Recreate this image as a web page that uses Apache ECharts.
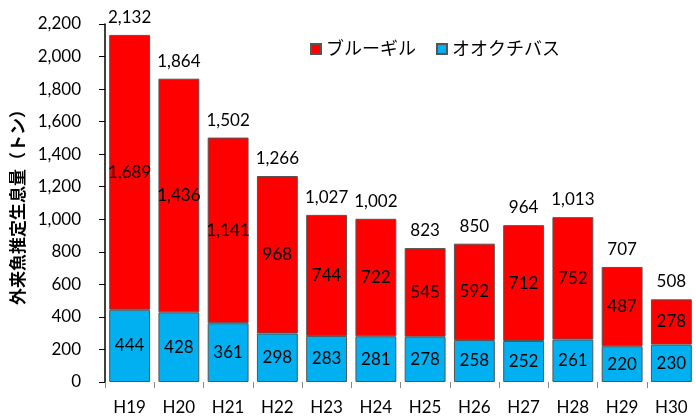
<!DOCTYPE html>
<html lang="ja">
<head>
  <meta charset="UTF-8">
  <title>外来魚推定生息量</title>
  <script src="https://cdn.jsdelivr.net/npm/echarts@6/dist/echarts.min.js"></script>
  <style>
    html, body { margin: 0; padding: 0; background: #fff; }
    #chart { width: 696px; height: 417px; }
  </style>
</head>
<body>
<div id="chart"></div>
<script>
  // 年度
  var years = ['H19', 'H20', 'H21', 'H22', 'H23', 'H24', 'H25', 'H26', 'H27', 'H28', 'H29', 'H30'];
  // オオクチバス（下段）
  var bass = [444, 428, 361, 298, 283, 281, 278, 258, 252, 261, 220, 230];
  // ブルーギル（上段）
  var bluegill = [1689, 1436, 1141, 968, 744, 722, 545, 592, 712, 752, 487, 278];
  // 合計ラベル
  var totals = [2132, 1864, 1502, 1266, 1027, 1002, 823, 850, 964, 1013, 707, 508];
  // 縦軸目盛
  var yTicks = [0, 200, 400, 600, 800, 1000, 1200, 1400, 1600, 1800, 2000, 2200];

  var font = 'Lato, "Noto Sans CJK JP", sans-serif';
  var fmt = function (v) { return Number(v).toLocaleString('en-US'); };

  var chart = echarts.init(document.getElementById('chart'));
  var option = {
    animation: false,
    textStyle: { fontFamily: font },
    legend: {
      data: ['ブルーギル', 'オオクチバス'],
      left: 305,
      top: 35,
      icon: 'rect',
      itemWidth: 10,
      itemHeight: 10,
      itemGap: 20,
      textStyle: { fontSize: 18, color: '#000', fontFamily: font }
    },
    grid: { left: 105, top: 24, width: 595, height: 358 },
    xAxis: {
      type: 'category',
      data: years,
      axisLine: { show: false },
      axisTick: { show: true, length: 6, lineStyle: { color: '#888' } },
      axisLabel: { fontSize: 17, color: '#000', margin: 17 }
    },
    yAxis: {
      type: 'value',
      min: yTicks[0],
      max: yTicks[yTicks.length - 1],
      interval: 200,
      name: '外来魚推定生息量（トン）',
      nameLocation: 'middle',
      nameGap: 78,
      nameRotate: 90,
      nameTextStyle: { fontSize: 17, fontWeight: 'bold', color: '#000', fontFamily: font },
      axisLine: { show: true, lineStyle: { color: '#000', width: 1.5 } },
      axisTick: { show: true, inside: false, length: 6, lineStyle: { color: '#000' } },
      axisLabel: { fontSize: 17, color: '#000', margin: 24, formatter: fmt },
      splitLine: { show: false }
    },
    series: [
      {
        name: 'オオクチバス',
        type: 'bar',
        stack: 'fish',
        barWidth: '83%',
        data: bass,
        itemStyle: { color: '#00B0F0', borderColor: '#555', borderWidth: 1 },
        label: { show: true, position: 'inside', fontSize: 17, color: '#000', formatter: function (p) { return fmt(p.value); } }
      },
      {
        name: 'ブルーギル',
        type: 'bar',
        stack: 'fish',
        data: bluegill,
        itemStyle: { color: '#FF0000', borderColor: '#555', borderWidth: 1 },
        label: { show: true, position: 'inside', fontSize: 17, color: '#000', formatter: function (p) { return fmt(p.value); } }
      },
      {
        name: '合計',
        type: 'bar',
        stack: 'fish',
        data: totals.map(function () { return 0; }),
        itemStyle: { color: 'transparent' },
        label: {
          show: true,
          position: 'top',
          distance: 9,
          fontSize: 17,
          color: '#000',
          formatter: function (p) { return fmt(totals[p.dataIndex]); }
        }
      }
    ]
  };
  chart.setOption(option);
</script>
</body>
</html>
